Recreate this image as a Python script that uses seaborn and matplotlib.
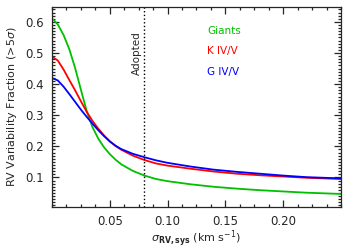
import numpy as np
import pandas as pd
import seaborn as sns
import matplotlib.pyplot as plt
from matplotlib.ticker import MultipleLocator

# values
sigma = [0.001, 0.005, 0.01, 0.015, 0.02, 0.025, 0.03, 0.035, 0.04, 0.045, 0.05, 0.055,
         0.06, 0.07, 0.08, 0.09, 0.10, 0.12, 0.14, 0.16, 0.18, 0.20, 0.22, 0.25]
giants = [0.608, 0.592, 0.558, 0.512, 0.452, 0.382, 0.314, 0.262, 0.225, 0.197, 0.175, 0.157,
          0.142, 0.121, 0.106, 0.095, 0.088, 0.078, 0.070, 0.064, 0.059, 0.055, 0.051, 0.047]
k_dwarfs = [0.486, 0.476, 0.447, 0.413, 0.38, 0.345, 0.311, 0.282, 0.257, 0.235, 0.216, 0.201,
            0.189, 0.170, 0.156, 0.145, 0.138, 0.128, 0.119, 0.112, 0.107, 0.103, 0.099, 0.095]
g_dwarfs = [0.418, 0.412, 0.392, 0.368, 0.343, 0.318, 0.295, 0.273, 0.252, 0.233, 0.216, 0.202,
            0.191, 0.176, 0.165, 0.155, 0.147, 0.135, 0.125, 0.118, 0.112, 0.106, 0.101, 0.097]
labels = ['Giants', 'K IV/V', 'G IV/V']
colors = ['#00c000', '#ff0000', '#0000ff']
adopted = 0.08

sns.set_style('ticks')
plt.rcParams['font.family'] = ['DejaVu Sans']
plt.rcParams['mathtext.fontset'] = 'dejavusans'

df = pd.DataFrame({'sigma': sigma * 3,
                   'frac': giants + k_dwarfs + g_dwarfs,
                   'type': [labels[0]] * len(sigma) + [labels[1]] * len(sigma) + [labels[2]] * len(sigma)})

fig = plt.figure(figsize=(3.49, 2.5), dpi=100)
ax = fig.add_axes([0.149, 0.172, 0.828, 0.8])
sns.lineplot(data=df, x='sigma', y='frac', hue='type', palette=colors, hue_order=labels,
             lw=1.3, legend=False, ax=ax)
ax.axvline(adopted, color='k', ls=':', lw=1)
ax.text(adopted - 0.0065, 0.5, 'Adopted', rotation=90, ha='center', va='center', fontsize=7.5)

for i, lab in enumerate(labels):
    ax.text(0.134, 0.57 - i * 0.065, lab, color=colors[i], fontsize=7.5, va='center')

ax.set_xlim(0, 0.25)
ax.set_ylim(0.005, 0.648)
ax.set_xticks([0.05, 0.10, 0.15, 0.20])
ax.set_xticklabels(['0.05', '0.10', '0.15', '0.20'])
ax.set_yticks([0.1, 0.2, 0.3, 0.4, 0.5, 0.6])
ax.xaxis.set_minor_locator(MultipleLocator(0.0125))
ax.yaxis.set_minor_locator(MultipleLocator(0.01))
ax.tick_params(which='both', direction='in', top=True, right=True, labelsize=8.5, width=0.9)
ax.tick_params(which='major', length=5, pad=6)
ax.tick_params(which='minor', length=2.5)
for s in ax.spines.values():
    s.set_linewidth(0.9)

ax.set_xlabel(r'$\sigma_{\mathbf{RV,sys}}$ (km s$^{-1}$)', fontsize=8, labelpad=0)
ax.set_ylabel(r'RV Variability Fraction (>5$\sigma$)', fontsize=8, labelpad=4)

fig.savefig('out.png', dpi=100)
